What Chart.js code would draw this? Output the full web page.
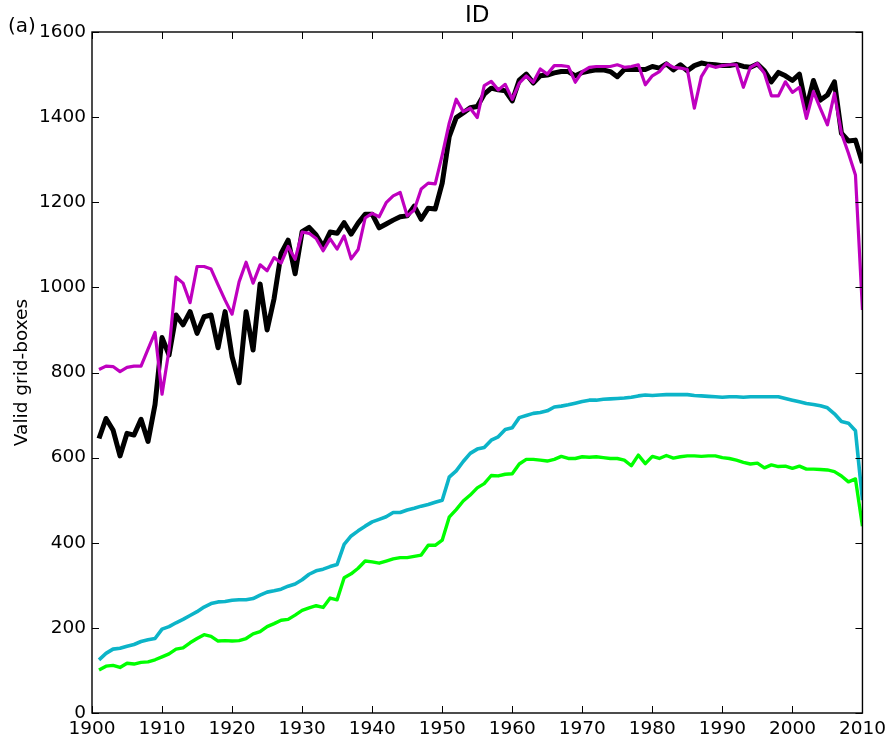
<!DOCTYPE html>
<html>
<head>
<meta charset="utf-8">
<title>ID</title>
<script src="https://cdn.jsdelivr.net/npm/chart.js@4"></script>
<style>
html, body { margin: 0; padding: 0; background: #fff; }
#chart { display: block; }
</style>
</head>
<body>
<canvas id="chart" width="891" height="743"></canvas>
<script>
const years = [
  1901,1902,1903,1904,1905,1906,1907,1908,1909,
  1910,1911,1912,1913,1914,1915,1916,1917,1918,1919,
  1920,1921,1922,1923,1924,1925,1926,1927,1928,1929,
  1930,1931,1932,1933,1934,1935,1936,1937,1938,1939,
  1940,1941,1942,1943,1944,1945,1946,1947,1948,1949,
  1950,1951,1952,1953,1954,1955,1956,1957,1958,1959,
  1960,1961,1962,1963,1964,1965,1966,1967,1968,1969,
  1970,1971,1972,1973,1974,1975,1976,1977,1978,1979,
  1980,1981,1982,1983,1984,1985,1986,1987,1988,1989,
  1990,1991,1992,1993,1994,1995,1996,1997,1998,1999,
  2000,2001,2002,2003,2004,2005,2006,2007,2008,2009,2010
];
const blackSeries = [
  645,692,665,604,657,653,690,638,725,
  882,841,935,912,943,892,931,935,858,943,
  837,776,943,853,1008,900,974,1080,1111,1032,
  1131,1141,1123,1096,1130,1127,1152,1125,1151,1172,
  1172,1140,1149,1158,1166,1168,1191,1160,1186,1184,
  1245,1354,1399,1410,1422,1425,1454,1468,1464,1462,
  1438,1487,1501,1480,1497,1499,1504,1507,1507,1497,
  1505,1508,1511,1511,1507,1495,1512,1512,1512,1512,
  1519,1515,1525,1511,1523,1509,1521,1527,1524,1523,
  1521,1521,1524,1519,1517,1525,1509,1483,1505,1497,
  1486,1501,1421,1486,1440,1452,1483,1362,1344,1346,1292
];
const magentaSeries = [
  807,815,814,802,812,815,815,855,894,
  749,853,1024,1010,964,1049,1049,1043,1006,970,
  937,1013,1059,1010,1053,1039,1070,1057,1096,1066,
  1130,1127,1115,1086,1114,1090,1121,1067,1089,1163,
  1174,1166,1199,1215,1223,1168,1182,1231,1245,1243,
  1311,1386,1442,1413,1421,1399,1474,1484,1464,1477,
  1442,1480,1497,1482,1513,1501,1521,1521,1519,1482,
  1507,1517,1519,1519,1519,1523,1517,1519,1523,1476,
  1497,1507,1526,1517,1515,1512,1421,1495,1522,1517,
  1521,1523,1523,1470,1517,1526,1503,1450,1450,1483,
  1458,1470,1397,1460,1420,1382,1456,1362,1315,1264,947
];
const greenSeries = [
  101,110,112,107,117,115,119,120,125,
  132,139,150,153,165,175,184,180,169,170,
  169,170,175,186,191,203,210,218,220,230,
  241,247,252,248,270,266,318,327,340,357,
  355,352,357,362,365,365,368,371,394,394,
  406,460,478,498,512,529,539,558,557,561,
  562,585,596,596,594,592,596,603,598,598,
  602,601,602,600,598,598,594,581,606,586,
  603,598,605,599,602,604,604,603,604,604,
  600,598,594,589,585,587,576,583,579,580,
  575,580,573,573,572,571,567,557,543,550,439
];
const tealSeries = [
  125,140,150,152,157,161,168,172,175,
  197,203,212,220,229,238,249,257,261,262,
  265,266,266,269,277,284,287,291,298,303,
  313,326,334,338,344,349,396,416,428,439,
  449,455,461,471,471,477,481,486,490,495,
  500,554,569,591,610,620,624,641,649,666,
  670,694,699,704,706,710,719,721,724,728,
  732,735,735,737,738,739,740,742,745,747,
  746,747,748,748,748,748,746,745,744,743,
  742,743,743,742,743,743,743,743,743,739,
  735,731,727,725,722,717,703,685,681,663,500
];
const yTicks = [0,200,400,600,800,1000,1200,1400,1600];
const xTicks = [1900,1910,1920,1930,1940,1950,1960,1970,1980,1990,2000,2010];

const fontFamily = '"DejaVu Sans", sans-serif';

// frame and inward ticks on all four sides, like the original axes
const framePlugin = {
    id: 'frame',
    afterDatasetsDraw(chart) {
        const { ctx, chartArea: a, scales } = chart;
        const tick = 7;
        ctx.save();
        ctx.strokeStyle = '#000';
        ctx.lineWidth = 1;
        ctx.beginPath();
        yTicks.forEach(v => {
            const y = Math.round(scales.y.getPixelForValue(v)) + 0.5;
            ctx.moveTo(a.left, y); ctx.lineTo(a.left + tick, y);
            ctx.moveTo(a.right, y); ctx.lineTo(a.right - tick, y);
        });
        xTicks.forEach(v => {
            const x = Math.round(scales.x.getPixelForValue(v)) + 0.5;
            ctx.moveTo(x, a.bottom); ctx.lineTo(x, a.bottom - tick);
            ctx.moveTo(x, a.top); ctx.lineTo(x, a.top + tick);
        });
        ctx.stroke();
        ctx.lineWidth = 1.4;
        ctx.strokeRect(a.left, a.top, a.right - a.left, a.bottom - a.top);
        ctx.fillStyle = '#000';
        ctx.font = '20px ' + fontFamily;
        ctx.textBaseline = 'alphabetic';
        ctx.fillText('(a)', 8, 32);
        ctx.restore();
    }
};

function lineSet(label, data, color, width) {
    return {
        label, data,
        borderColor: color,
        backgroundColor: color,
        borderWidth: width,
        pointRadius: 0,
        tension: 0,
        clip: 0,
        borderJoinStyle: 'round',
        fill: false,
    };
}

new Chart(document.getElementById('chart'), {
    type: 'line',
    data: {
        labels: years,
        // Chart.js paints the first dataset last, so the top line comes first
        datasets: [
            lineSet('teal', tealSeries, '#0CB4C8', 3.6),
            lineSet('green', greenSeries, '#00FF00', 3.4),
            lineSet('magenta', magentaSeries, '#BF00BF', 3.2),
            lineSet('black', blackSeries, '#000000', 5),
        ],
    },
    options: {
        responsive: false,
        animation: false,
        layout: { padding: { left: 0, right: 28, top: 0, bottom: 0 } },
        plugins: {
            legend: { display: false },
            tooltip: { enabled: false },
            title: {
                display: true,
                text: 'ID',
                color: '#000',
                fullSize: false,
                font: { family: fontFamily, size: 23, weight: 'normal', lineHeight: 1.2 },
                padding: { top: 2, bottom: 2.4 },
            },
        },
        scales: {
            x: {
                type: 'linear',
                min: 1900,
                max: 2010,
                grid: { display: false, drawTicks: false },
                border: { display: false },
                afterFit(scale) { scale.height = 30; },
                afterBuildTicks(scale) { scale.ticks = xTicks.map(v => ({ value: v })); },
                ticks: {
                    autoSkip: false,
                    maxRotation: 0,
                    minRotation: 0,
                    padding: 5,
                    color: '#000',
                    font: { family: fontFamily, size: 18.5 },
                    callback: v => String(v),
                },
            },
            y: {
                min: 0,
                max: 1600,
                grid: { display: false, drawTicks: false },
                border: { display: false },
                afterFit(scale) { scale.width = 92; },
                afterBuildTicks(scale) { scale.ticks = yTicks.map(v => ({ value: v })); },
                title: {
                    display: true,
                    text: 'Valid grid-boxes',
                    color: '#000',
                    font: { family: fontFamily, size: 18.5, weight: 'normal' },
                    padding: { top: 11, bottom: 0 },
                },
                ticks: {
                    autoSkip: false,
                    padding: 6,
                    color: '#000',
                    font: { family: fontFamily, size: 18.5 },
                    callback: v => String(v),
                },
            },
        },
    },
    plugins: [framePlugin],
});
</script>
</body>
</html>
